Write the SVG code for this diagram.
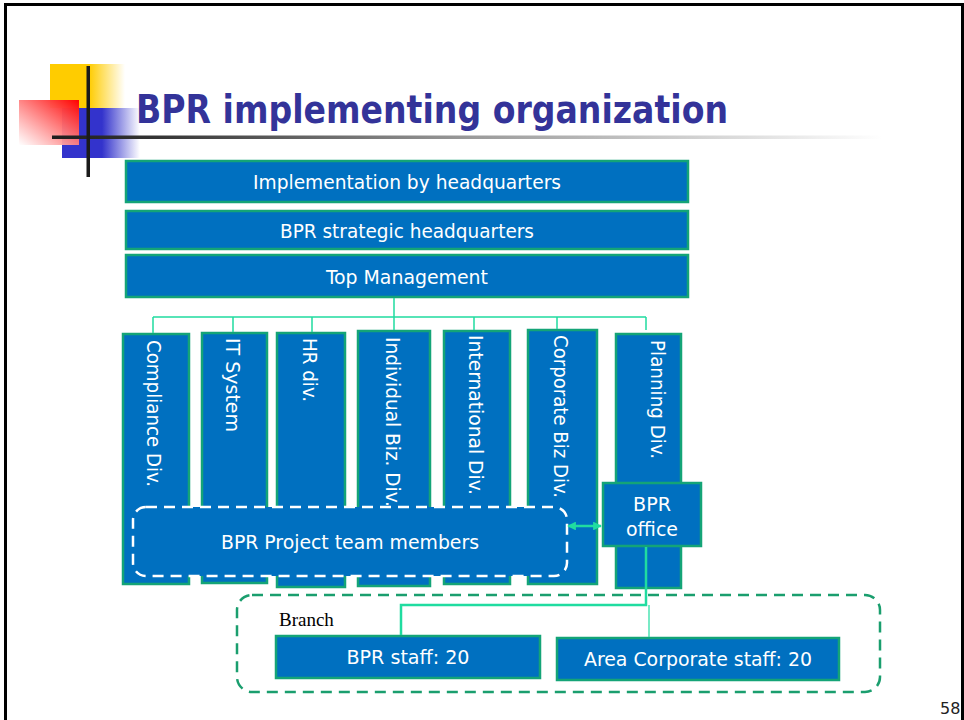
<svg xmlns="http://www.w3.org/2000/svg" width="964" height="720" viewBox="0 0 964 720">
<defs>
<linearGradient id="gY" x1="0" y1="0" x2="1" y2="0"><stop offset="0" stop-color="#FFCC00"/><stop offset="1" stop-color="#FFCC00" stop-opacity="0"/></linearGradient>
<linearGradient id="gB" x1="0" y1="0" x2="1" y2="0"><stop offset="0" stop-color="#3333CC"/><stop offset="1" stop-color="#3333CC" stop-opacity="0"/></linearGradient>
<linearGradient id="gR" x1="1" y1="0" x2="0" y2="1"><stop offset="0" stop-color="#FF0000"/><stop offset="1" stop-color="#FFFFFF" stop-opacity="0.9"/></linearGradient>
<linearGradient id="gL" x1="0" y1="0" x2="1" y2="0"><stop offset="0" stop-color="#1E1E1E"/><stop offset="0.12" stop-color="#333333"/><stop offset="0.5" stop-color="#999999"/><stop offset="1" stop-color="#FFFFFF"/></linearGradient>
<marker id="arr" viewBox="0 0 10 10" refX="9" refY="5" markerWidth="3.5" markerHeight="3.5" orient="auto-start-reverse"><path d="M0,0 L10,5 L0,10 z" fill="#20DCA0"/></marker>
</defs>
<style>
.box{fill:#0070C0;stroke:#14A477;stroke-width:2.5}
.t{fill:#FFFFFF;font-family:"DejaVu Sans Condensed","DejaVu Sans","Liberation Sans",sans-serif;font-stretch:condensed;font-size:20px}
.c{text-anchor:middle}
.con{fill:none;stroke:#20DCA0;stroke-width:1.5}
.dash{stroke-width:2.5;stroke-dasharray:11 7}
</style>
<rect width="964" height="720" fill="#FFFFFF"/>
<path d="M5.5,720 V4.5 H962.5 V720" fill="none" stroke="#000000" stroke-width="3"/>
<g id="decoration">
<rect x="50" y="64" width="39" height="44" fill="#FFCC00"/>
<rect x="89" y="64" width="36" height="44" fill="url(#gY)"/>
<rect x="62" y="108" width="40" height="50" fill="#3333CC"/>
<rect x="102" y="108" width="38" height="50" fill="url(#gB)"/>
<rect x="19" y="100" width="60" height="45" fill="url(#gR)"/>
<rect x="52" y="135.5" width="830" height="3.5" fill="url(#gL)"/>
<rect x="86.5" y="66" width="3.5" height="111" fill="#1A1A1A"/>
</g>
<text x="136" y="123" fill="#333399" font-family="'DejaVu Sans','Liberation Sans',sans-serif" font-weight="bold" font-size="39" textLength="592" lengthAdjust="spacingAndGlyphs">BPR implementing organization</text>
<g id="n-impl"><rect class="box" x="126" y="161" width="562" height="41"/><text class="t c" x="407" y="189" textLength="308" lengthAdjust="spacingAndGlyphs">Implementation by headquarters</text></g>
<g id="n-strat"><rect class="box" x="126" y="211" width="562" height="38"/><text class="t c" x="407" y="238" textLength="254" lengthAdjust="spacingAndGlyphs">BPR strategic headquarters</text></g>
<g id="n-top"><rect class="box" x="126" y="255" width="562" height="42"/><text class="t c" x="407" y="284" textLength="162" lengthAdjust="spacingAndGlyphs">Top Management</text></g>
<g id="n-compliance"><rect class="box" x="123" y="334" width="66" height="250"/><text class="t" transform="translate(154,340) rotate(90)" dy="7" textLength="147" lengthAdjust="spacingAndGlyphs">Compliance Div.</text></g>
<g id="n-it"><rect class="box" x="202" y="333" width="65" height="250"/><text class="t" transform="translate(233,338) rotate(90)" dy="7" textLength="94" lengthAdjust="spacingAndGlyphs">IT System</text></g>
<g id="n-hr"><rect class="box" x="277" y="333" width="68" height="254"/><text class="t" transform="translate(310,338) rotate(90)" dy="7" textLength="64" lengthAdjust="spacingAndGlyphs">HR div.</text></g>
<g id="n-individual"><rect class="box" x="358" y="331" width="72" height="255"/><text class="t" transform="translate(393,337) rotate(90)" dy="7" textLength="170" lengthAdjust="spacingAndGlyphs">Individual Biz. Div.</text></g>
<g id="n-international"><rect class="box" x="444" y="331" width="66" height="253"/><text class="t" transform="translate(476,335) rotate(90)" dy="7" textLength="160" lengthAdjust="spacingAndGlyphs">International Div.</text></g>
<g id="n-corporate"><rect class="box" x="528" y="330" width="69" height="254"/><text class="t" transform="translate(561,335) rotate(90)" dy="7" textLength="163" lengthAdjust="spacingAndGlyphs">Corporate Biz Div.</text></g>
<g id="n-planning"><rect class="box" x="616" y="334" width="65" height="254"/><text class="t" transform="translate(658,340) rotate(90)" dy="7" textLength="119" lengthAdjust="spacingAndGlyphs">Planning Div.</text></g>
<g id="n-team"><rect x="133" y="507" width="434" height="69" rx="13" class="dash" style="fill:#0070C0;stroke:#FFFFFF"/><text class="t c" x="350" y="549" textLength="258" lengthAdjust="spacingAndGlyphs">BPR Project team members</text></g>
<g id="n-office"><rect class="box" x="603" y="483" width="98" height="63"/><text class="t c" x="652" y="511" textLength="38" lengthAdjust="spacingAndGlyphs">BPR</text><text class="t c" x="652" y="536" textLength="52" lengthAdjust="spacingAndGlyphs">office</text></g>
<g id="n-branch"><rect x="237" y="595" width="643" height="97" rx="15" class="dash" style="fill:none;stroke:#1A9E6E"/><text x="279" y="626" fill="#000000" font-family="'Liberation Serif',serif" font-size="19">Branch</text></g>
<g id="n-staff"><rect class="box" x="276" y="636" width="264" height="42"/><text class="t c" x="408" y="664" textLength="123" lengthAdjust="spacingAndGlyphs">BPR staff: 20</text></g>
<g id="n-area"><rect class="box" x="557" y="638" width="282" height="42"/><text class="t c" x="698" y="666" textLength="228" lengthAdjust="spacingAndGlyphs">Area Corporate staff: 20</text></g>
<g id="connectors">
<path class="con" d="M394,298 V317 M153,317 H646 M153,317 V333 M233,317 V332 M312,317 V332 M394,317 V330 M474,317 V330 M557,317 V329 M646,317 V330"/>
<path d="M646,547 V605 H401 V635" fill="none" stroke="#20DCA0" stroke-width="2.5"/>
<path d="M649,605 V637" fill="none" stroke="#20DCA0" stroke-width="1.2"/>
<line x1="568" y1="526" x2="601" y2="526" stroke="#20DCA0" stroke-width="2.5" marker-start="url(#arr)" marker-end="url(#arr)"/>
</g>
<text x="940" y="714" fill="#222222" font-family="'DejaVu Sans','Liberation Sans',sans-serif" font-size="16">58</text>
</svg>
